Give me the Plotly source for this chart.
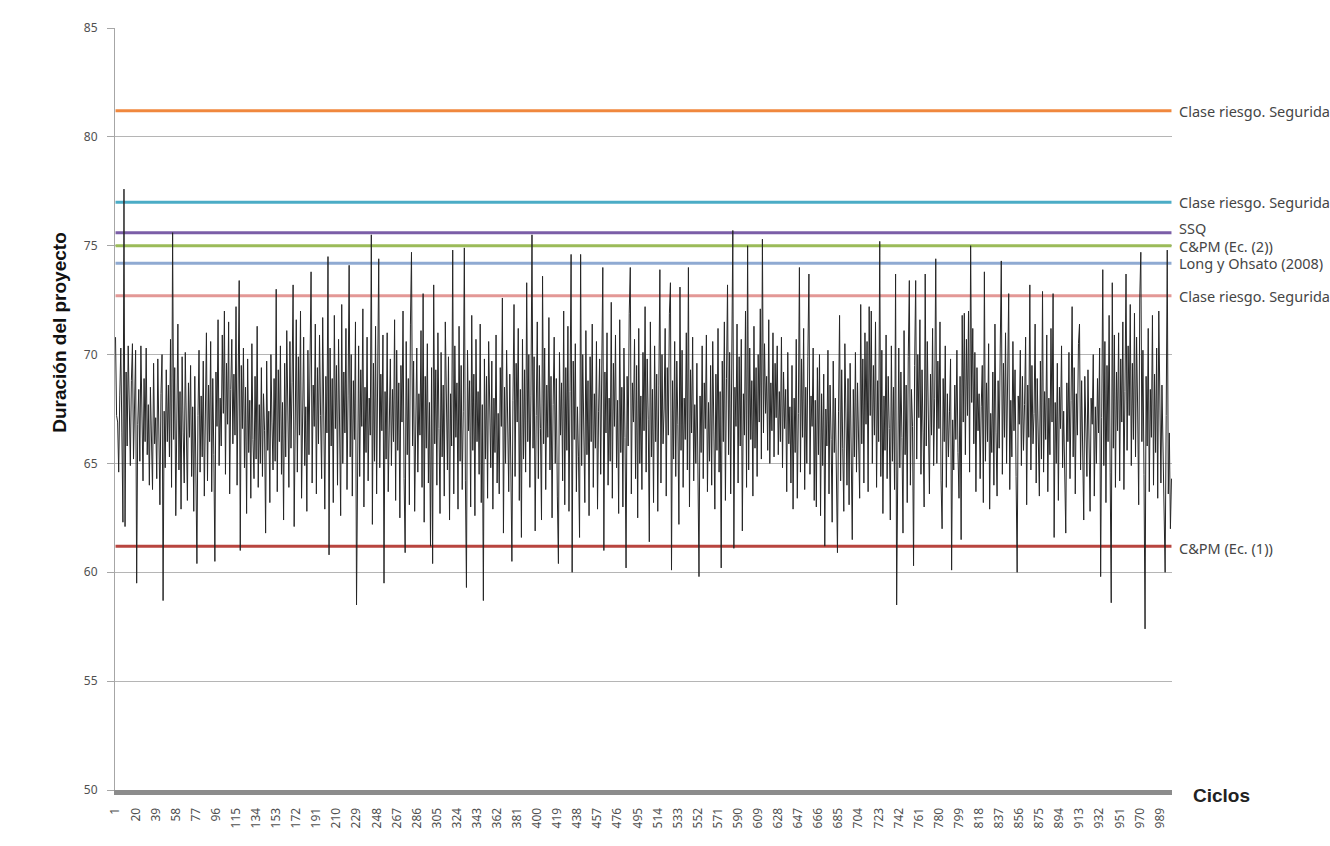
import plotly.graph_objects as go

# ---------------- data ----------------
cycles = list(range(1, 1001))

duracion = [
    70.8, 67.2, 66.9, 64.6, 68.1, 70.3, 66.4, 62.3, 77.6, 62.1,
    69.2, 65.8, 70.4, 66.7, 64.9, 68.8, 70.5, 65.2, 67.3, 70.2,
    59.5, 66.8, 68.4, 65.1, 70.4, 66.3, 64.2, 68.9, 66.0, 70.3,
    65.4, 67.7, 64.0, 68.5, 66.2, 63.8, 69.6, 65.9, 67.1, 64.3,
    69.8, 66.5, 63.1, 68.2, 70.0, 58.7, 67.4, 64.8, 69.3, 66.0,
    68.6, 65.3, 70.7, 63.9, 75.6, 66.1, 69.4, 62.6, 67.9, 71.4,
    64.7, 68.3, 62.9, 69.9, 66.4, 64.1, 70.1, 65.6, 63.3, 68.7,
    66.2, 69.5, 64.4, 67.6, 62.8, 69.0, 65.7, 60.4, 67.2, 70.2,
    64.6, 68.1, 65.3, 69.7, 63.5, 67.8, 71.0, 64.2, 68.6, 66.0,
    70.6, 63.7, 68.9, 65.4, 60.5, 69.2, 66.7, 71.6, 64.9, 68.0,
    65.8, 70.9, 67.3, 72.0, 64.5, 69.6, 66.8, 71.5, 63.6, 68.4,
    70.7, 65.9, 69.1, 66.3, 72.2, 64.0, 68.8, 73.4, 61.0, 69.5,
    66.6, 70.3, 64.8, 68.5, 62.7, 69.8, 65.5, 67.9, 63.4, 70.5,
    66.1, 64.3, 69.0, 65.2, 71.3, 63.9, 67.7, 65.0, 69.4, 64.4,
    68.2, 66.5, 61.8, 69.7, 65.6, 67.4, 63.2, 70.0, 66.9, 64.7,
    68.9, 65.1, 73.0, 63.7, 69.3, 66.0, 70.4, 64.5, 67.8, 62.4,
    69.6, 65.3, 71.1, 66.8, 63.9, 70.6, 65.7, 68.7, 73.2, 62.1,
    68.0, 71.6, 64.6, 69.9, 66.3, 72.0, 63.4, 68.4, 70.8, 64.9,
    67.6, 62.8, 70.2, 65.4, 69.1, 73.8, 64.1, 68.6, 66.7, 71.4,
    63.6, 69.4, 65.9, 70.9, 67.2, 64.3, 71.7, 66.2, 62.9, 69.0,
    66.4, 74.5, 60.8, 70.3, 65.8, 68.9, 63.2, 71.8, 66.6, 69.5,
    64.0, 70.7, 67.1, 62.6, 72.3, 65.0, 69.2, 66.4, 71.2, 63.8,
    68.1, 74.1, 65.3, 70.0, 63.5, 68.8, 66.1, 71.5, 58.5, 67.0,
    70.4, 64.4, 69.3, 66.7, 72.1, 63.0, 68.5, 65.5, 70.8, 64.2,
    68.0, 66.3, 75.5, 62.2, 69.6, 65.1, 71.3, 63.6, 67.9, 74.4,
    64.8, 69.1, 66.5, 70.9, 59.5, 68.3, 65.2, 71.0, 63.7, 67.6,
    69.8, 64.9, 68.4, 66.0, 71.6, 63.3, 70.2, 65.6, 68.7, 62.5,
    69.5, 66.9, 72.0, 64.3, 60.9, 70.6, 65.4, 68.9, 63.1, 71.4,
    74.7, 65.8, 69.7, 62.8, 67.5, 70.3, 64.6, 68.2, 66.3, 71.1,
    63.9, 72.8, 62.3, 69.0, 65.7, 70.5, 64.1, 67.8, 61.2, 69.4,
    60.4, 73.2, 65.9, 69.3, 64.0, 71.0, 66.6, 62.7, 70.1, 65.3,
    68.6, 63.5, 71.5, 66.8, 64.7, 69.9, 62.4, 68.2, 65.8, 74.8,
    63.6, 70.4, 66.2, 68.7, 62.9, 71.3, 65.1, 69.5, 63.8, 67.4,
    74.9, 64.2, 59.3, 70.2, 66.5, 68.8, 63.0, 71.8, 65.6, 69.1,
    62.6, 70.7, 66.0, 68.3, 64.5, 71.4, 63.2, 67.7, 58.7, 69.8,
    65.2, 69.0, 63.4, 70.6, 66.1, 64.8, 69.7, 62.9, 68.0, 65.5,
    70.9, 64.1, 67.3, 63.6, 69.4, 66.7, 72.6, 61.8, 68.5, 65.0,
    70.2, 66.4, 63.7, 69.1, 65.8, 60.5, 67.9, 72.3, 64.4, 69.6,
    66.9, 71.2, 63.3, 68.4, 61.6, 70.7, 65.2, 69.3, 64.6, 73.3,
    66.0, 70.0, 63.9, 68.1, 75.5, 65.7, 69.9, 61.9, 67.2, 71.5,
    64.3, 69.5, 66.6, 62.4, 73.6, 65.9, 70.3, 63.8, 68.6, 66.2,
    71.7, 64.7, 69.0, 62.5, 67.7, 70.8, 65.0, 68.9, 63.5, 60.4,
    70.1, 66.3, 68.7, 64.2, 72.0, 63.1, 69.4, 65.6, 71.3, 62.8,
    68.3, 74.6, 60.0, 69.7, 66.1, 70.5, 63.7, 67.6, 65.3, 61.6,
    74.6, 64.9, 70.0, 66.8, 63.2, 71.1, 65.4, 68.8, 62.6, 69.9,
    66.0, 71.4, 63.9, 68.2, 65.7, 70.6, 62.9, 67.4, 69.8, 64.5,
    68.9, 74.0, 61.0, 69.2, 66.4, 71.0, 64.0, 68.0, 65.1, 72.4,
    63.4, 69.6, 66.7, 70.9, 64.8, 67.9, 62.7, 71.6, 65.5, 68.5,
    63.0, 70.3, 66.2, 60.2, 69.0, 65.8, 71.9, 74.0, 63.6, 68.7,
    66.9, 70.7, 64.3, 69.5, 62.5, 71.2, 65.0, 68.1, 63.8, 70.1,
    66.5, 72.2, 64.6, 69.8, 67.0, 61.4, 71.5, 65.3, 68.4, 63.2,
    70.4, 66.0, 69.1, 62.8, 68.6, 73.9, 64.1, 70.0, 65.9, 67.5,
    71.2, 63.5, 69.4, 66.3, 71.9, 73.3, 60.1, 68.8, 65.2, 70.6,
    64.4, 69.7, 66.8, 62.2, 73.1, 65.6, 70.2, 63.9, 68.0, 66.1,
    71.0, 64.7, 74.0, 63.0, 69.3, 66.4, 70.8, 64.2, 67.7, 65.0,
    69.6, 63.4, 59.8, 68.1, 65.5, 70.4, 64.3, 68.7, 66.6, 70.9,
    63.7, 67.8, 65.1, 69.5, 64.0, 70.6, 66.2, 62.9, 69.1, 65.6,
    71.2, 64.6, 68.3, 60.2, 69.7, 66.0, 71.5, 63.3, 68.9, 73.2,
    65.4, 70.1, 63.6, 69.0, 75.7, 61.1, 68.5, 66.7, 71.4, 64.1,
    69.9, 65.8, 70.7, 61.9, 68.2, 66.3, 72.0, 63.9, 75.0, 64.7,
    70.3, 66.1, 68.8, 63.5, 71.3, 65.7, 69.4, 64.4, 70.0, 66.9,
    72.1, 65.2, 75.3, 66.4, 70.5, 67.3, 69.0, 65.6, 71.6, 65.0,
    68.7, 66.5, 71.0, 65.3, 69.6, 67.1, 70.4, 65.4, 68.3, 66.0,
    70.8, 64.8, 69.2, 66.6, 68.4, 63.7, 70.1, 65.9, 67.6, 64.1,
    69.5, 62.9, 68.0, 65.5, 70.7, 63.4, 67.3, 74.0, 64.6, 69.8,
    66.2, 71.2, 63.8, 68.5, 65.0, 69.9, 73.7, 64.5, 68.1, 66.7,
    70.3, 63.3, 67.9, 63.0, 69.4, 65.4, 70.0, 62.6, 68.2, 64.9,
    69.1, 61.2, 67.5, 65.8, 70.2, 63.6, 68.6, 66.1, 62.3, 69.7,
    65.5, 68.0, 63.9, 60.9, 67.4, 71.8, 64.2, 69.3, 65.7, 62.8,
    70.5, 66.4, 64.0, 68.9, 63.1, 69.6, 66.0, 61.5, 68.4, 65.3,
    70.1, 64.6, 68.7, 66.5, 63.4, 72.3, 65.9, 69.8, 64.1, 71.0,
    66.8, 70.6, 63.7, 72.2, 67.2, 72.0, 65.0, 69.5, 66.3, 71.5,
    63.9, 68.8, 66.0, 75.2, 64.4, 70.2, 62.7, 68.1, 65.6, 70.9,
    64.3, 69.0, 66.6, 62.4, 70.4, 65.1, 68.5, 63.8, 73.7, 58.5,
    67.0, 70.3, 64.8, 69.2, 66.2, 61.8, 71.1, 65.4, 68.6, 63.2,
    69.9, 73.4, 64.0, 68.4, 66.7, 60.3, 69.5, 73.4, 65.2, 70.0,
    67.1, 71.6, 64.5, 69.3, 66.4, 63.0, 73.7, 65.8, 70.6, 67.5,
    63.6, 69.1, 66.3, 71.2, 64.9, 68.0, 74.4, 65.0, 69.7, 66.6,
    71.5, 64.2, 62.0, 68.9, 66.0, 70.4, 63.9, 68.2, 65.3, 67.4,
    69.8, 60.1, 67.0, 64.7, 68.6, 66.1, 70.2, 65.5, 63.4, 69.0,
    61.5, 71.8, 66.9, 71.9, 65.4, 70.7, 67.2, 72.0, 64.6, 75.0,
    67.8, 71.2, 65.9, 70.1, 63.7, 69.4, 66.5, 68.2, 64.3, 67.6,
    69.5, 63.2, 73.8, 65.1, 68.7, 66.0, 70.5, 62.9, 67.3, 65.5,
    69.2, 64.0, 71.4, 66.4, 63.5, 68.8, 65.7, 70.3, 74.3, 64.5,
    69.6, 66.2, 71.0, 65.0, 68.4, 72.8, 63.8, 67.9, 65.3, 70.6,
    66.5, 69.3, 64.4, 60.0, 68.1, 66.8, 70.2, 64.9, 69.0, 65.6,
    67.7, 70.8, 63.1, 68.6, 66.2, 73.2, 64.7, 69.5, 65.9, 67.3,
    71.4, 64.1, 68.9, 66.4, 63.5, 69.7, 65.2, 72.9, 64.6, 68.3,
    66.1, 70.9, 63.7, 68.0, 65.4, 71.2, 66.9, 72.8, 61.6, 67.8,
    65.0, 69.6, 63.3, 68.5, 66.6, 70.4, 64.8, 67.4, 65.1, 61.8,
    68.7, 66.0, 70.1, 64.3, 67.9, 72.2, 65.3, 69.4, 63.6, 68.2,
    66.3, 70.5, 71.4, 64.7, 68.8, 65.9, 62.4, 69.0, 66.2, 64.4,
    69.3, 65.1, 62.8, 68.0, 66.8, 70.0, 63.5, 67.6, 65.0, 68.9,
    66.4, 70.3, 59.8, 67.1, 73.9, 64.9, 70.6, 63.2, 69.5, 66.0,
    71.8, 64.6, 58.6, 73.3, 65.7, 70.9, 63.9, 69.2, 66.5, 71.0,
    64.2, 69.8, 66.9, 71.5, 63.8, 68.3, 73.7, 65.6, 70.4, 67.2,
    72.3, 64.9, 69.6, 66.1, 71.9, 65.3, 70.8, 67.5, 63.1, 72.6,
    74.7, 66.0, 70.2, 64.5, 57.4, 69.0, 65.8, 71.2, 63.7, 68.4,
    66.2, 71.8, 64.0, 69.1, 65.5, 70.3, 63.4, 72.0, 66.7, 64.1,
    68.6, 65.2, 63.0, 60.0, 67.2, 74.8, 63.6, 66.4, 62.0, 64.3,
]

level_labels = [
    "Clase riesgo. Seguridad",
    "Clase riesgo. Seguridad",
    "SSQ",
    "C&PM (Ec. (2))",
    "Long y Ohsato (2008)",
    "Clase riesgo. Seguridad",
    "C&PM (Ec. (1))",
]
level_values = [81.2, 77.0, 75.6, 75.0, 74.2, 72.7, 61.2]
level_colors = ["#F0883E", "#4BACC6", "#7B5EA7", "#9BBB59", "#8FAAD2", "#E39896", "#B8453F"]
level_label_shift = [0, 0, 5, 0, 0, 0, -2]

x_tick_vals = list(range(1, 990, 19))
y_ticks = [50, 55, 60, 65, 70, 75, 80, 85]

# ---------------- figure ----------------
fig = go.Figure()

for name, val, col in zip(level_labels, level_values, level_colors):
    fig.add_trace(go.Scatter(
        x=cycles, y=[val] * len(cycles), mode="lines",
        line=dict(color=col, width=3), name=name,
        hoverinfo="skip", showlegend=False,
    ))

fig.add_trace(go.Scatter(
    x=cycles, y=duracion, mode="lines",
    line=dict(color="#262626", width=1),
    name="Duración", showlegend=False,
))

for name, val, col, sh in zip(level_labels, level_values, level_colors, level_label_shift):
    fig.add_annotation(
        x=1.005, xref="paper", y=val, yref="y", yshift=sh,
        text=name, showarrow=False, xanchor="left", yanchor="middle",
        font=dict(family="Noto Sans", size=14.5, color="#454545"),
    )

fig.add_annotation(
    x=-0.052, xref="paper", y=0.60, yref="paper",
    text="<b>Duración del proyecto</b>", textangle=-90, showarrow=False,
    xanchor="center", yanchor="middle",
    font=dict(family="Liberation Sans", size=19, color="#111111"),
)
fig.add_annotation(
    x=1.047, xref="paper", y=-0.007, yref="paper",
    text="<b>Ciclos</b>", showarrow=False,
    xanchor="center", yanchor="middle",
    font=dict(family="Liberation Sans", size=19, color="#222222"),
)

fig.update_xaxes(
    range=[0.5, 1000.5],
    tickmode="array", tickvals=x_tick_vals, ticktext=[str(v) for v in x_tick_vals],
    tickangle=-90, ticks="", showgrid=False, zeroline=False,
    showline=True, linecolor="#8c8c8c", linewidth=5,
    ticklabelstandoff=8,
    tickfont=dict(family="Noto Sans", size=12, color="#505050"),
)
fig.update_yaxes(
    range=[50, 85], tickmode="array", tickvals=y_ticks,
    showgrid=True, gridcolor="#b5b5b5", gridwidth=1, zeroline=False,
    showline=True, linecolor="#a6a6a6", linewidth=1,
    ticks="outside", ticklen=7, tickcolor="#a6a6a6",
    ticklabelstandoff=7,
    tickfont=dict(family="Noto Sans", size=12, color="#505050"),
)

fig.update_layout(
    width=1330, height=846,
    margin=dict(l=115, r=158, t=28, b=56),
    paper_bgcolor="white", plot_bgcolor="white",
    showlegend=False,
)

fig.write_html("out.html", config={"displayModeBar": False},
               post_script="document.body.style.margin='0';")
